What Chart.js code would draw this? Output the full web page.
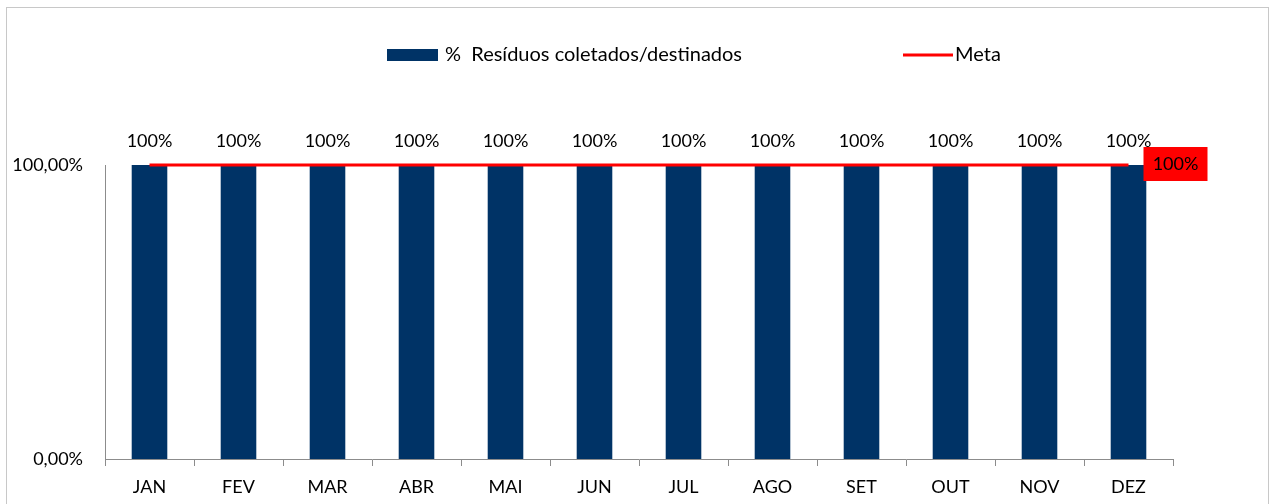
<!DOCTYPE html>
<html>
<head>
<meta charset="utf-8">
<script src="https://cdn.jsdelivr.net/npm/chart.js@4"></script>
<style>
  html, body { margin: 0; padding: 0; background: #fff; }
  #wrap { position: relative; width: 1271px; height: 504px; }
</style>
</head>
<body>
<div id="wrap"><canvas id="chart" width="1271" height="504"></canvas></div>
<script>
const months = ["JAN", "FEV", "MAR", "ABR", "MAI", "JUN", "JUL", "AGO", "SET", "OUT", "NOV", "DEZ"];
const residuos = [100, 100, 100, 100, 100, 100, 100, 100, 100, 100, 100, 100];
const meta = [100, 100, 100, 100, 100, 100, 100, 100, 100, 100, 100, 100];
const yTicks = [0, 100];

const FONT = "Lato, 'Open Sans', sans-serif";

// frame + legend + labels
const extras = {
  id: "extras",
  beforeDraw(chart) {
    const ctx = chart.ctx;
    ctx.save();
    ctx.fillStyle = "#fff";
    ctx.fillRect(0, 0, chart.width, chart.height);
    ctx.strokeStyle = "#c8c8c8";
    ctx.lineWidth = 1;
    ctx.strokeRect(6.5, 7.5, 1262, 520);
    ctx.restore();
  },
  afterDraw(chart) {
    const ctx = chart.ctx;
    ctx.save();
    ctx.textBaseline = "middle";
    // legend
    ctx.font = "20px " + FONT;
    ctx.fillStyle = "#003366";
    ctx.fillRect(387, 49, 51, 12);
    ctx.fillStyle = "#000";
    ctx.textAlign = "left";
    ctx.fillText("%  Resíduos coletados/destinados", 445, 55);
    ctx.strokeStyle = "#ff0000";
    ctx.lineWidth = 3;
    ctx.beginPath();
    ctx.moveTo(903, 55);
    ctx.lineTo(953, 55);
    ctx.stroke();
    ctx.fillText("Meta", 955, 55);

    ctx.font = "18px " + FONT;
    // bar value labels
    const barMeta = chart.getDatasetMeta(0);
    ctx.textAlign = "center";
    barMeta.data.forEach((el, i) => {
      ctx.fillText(residuos[i] + "%", el.x, el.y - 24);
    });

    // meta label on last point
    const lineMeta = chart.getDatasetMeta(1);
    const last = lineMeta.data[lineMeta.data.length - 1];
    const bx = last.x + 15, by = last.y - 18;
    ctx.fillStyle = "#ff0000";
    ctx.fillRect(bx, by, 64, 34);
    ctx.fillStyle = "#000";
    ctx.fillText(meta[meta.length - 1] + "%", bx + 32, by + 17);
    ctx.restore();
  }
};

new Chart(document.getElementById("chart"), {
  data: {
    labels: months,
    datasets: [
      {
        type: "line",
        label: "Meta",
        data: meta,
        borderColor: "#ff0000",
        borderWidth: 3,
        pointRadius: 0,
        clip: false,
        order: 0
      },
      {
        type: "bar",
        label: "%  Resíduos coletados/destinados",
        data: residuos,
        backgroundColor: "#003366",
        barPercentage: 0.4,
        categoryPercentage: 1,
        order: 1
      }
    ]
  },
  options: {
    responsive: false,
    animation: false,
    layout: { padding: { top: 165, right: 98, left: 0, bottom: 0 } },
    plugins: { legend: { display: false }, tooltip: { enabled: false } },
    scales: {
      x: {
        offset: true,
        grid: { display: true, drawOnChartArea: false, drawTicks: true, tickLength: 7, color: "#8c8c8c", offset: true },
        border: { display: true, color: "#8c8c8c" },
        ticks: { color: "#000", font: { family: FONT, size: 18 }, padding: 10 },
        afterFit(s) { s.height = 45; }
      },
      y: {
        min: 0,
        max: 100,
        afterBuildTicks(s) { s.ticks = yTicks.map(v => ({ value: v })); },
        grid: { display: false },
        border: { display: true, color: "#8c8c8c" },
        ticks: {
          color: "#000",
          font: { family: FONT, size: 18 },
          padding: 14,
          callback: v => v.toFixed(2).replace(".", ",") + "%"
        },
        afterFit(s) { s.width = 105; }
      }
    }
  },
  plugins: [extras]
});
</script>
</body>
</html>
